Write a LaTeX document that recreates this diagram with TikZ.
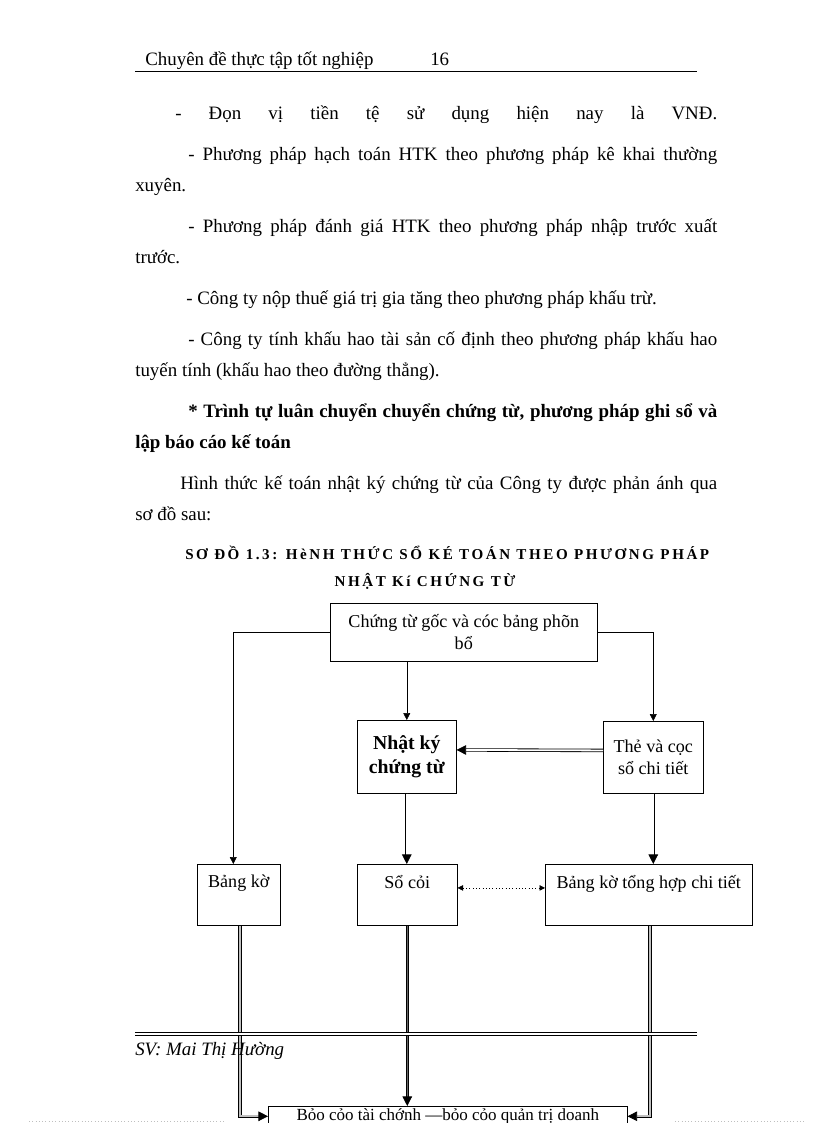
\documentclass[tikz,border=0pt]{standalone}
\usepackage{fontspec}
\setmainfont{Liberation Serif}
\newfontfamily\spaced[LetterSpace=17]{Liberation Serif}
\usetikzlibrary{arrows.meta,positioning,calc}
\newdimen\px
\px=0.7297pt

\begin{document}
\begin{tikzpicture}[x=0.7297pt,y=-0.7297pt,
  txt/.style={anchor=base west,inner sep=0pt,font=\fontsize{13.8}{16}\selectfont},
  bx/.style={draw,anchor=north west,inner sep=2pt,align=center,font=\fontsize{13.2}{16}\selectfont},
  toptext/.style={label={[anchor=north,inner sep=0pt,yshift=-11\px,font=\fontsize{13.2}{15}\selectfont]north:#1}},
  ar/.style={-{Triangle[length=5pt,width=5pt]}},
  dbl/.style={double=gray!50,line width=0.6pt,double distance=1.3pt,-{Triangle[length=7pt,width=7pt]}}]
\useasboundingbox (0,0) rectangle (816,1123);
\node[txt] (hd) at (145,65) {Chuyên đề thực tập tốt nghiệp};
\node[txt] (pg) at (430,65) {16};
\draw (135,71) -- (697,71);
\node[txt] (l1) at (175,119) {\makebox[542\px][s]{- Đọn vị tiền tệ sử dụng hiện nay là VNĐ.}};
\node[txt] (l2) at (188,160) {\makebox[529\px][s]{- Phương pháp hạch toán HTK theo phương pháp kê khai thường}};
\node[txt] (l3) at (135,191) {xuyên.};
\node[txt] (l4) at (188,232) {\makebox[529\px][s]{- Phương pháp đánh giá HTK theo phương pháp nhập trước xuất}};
\node[txt] (l5) at (135,263) {trước.};
\node[txt] (l6) at (186,304) {- Công ty nộp thuế giá trị gia tăng theo phương pháp khấu trừ.};
\node[txt] (l7) at (188,345) {\makebox[529\px][s]{- Công ty tính khấu hao tài sản cố định theo phương pháp khấu hao}};
\node[txt] (l8) at (135,376) {tuyến tính (khấu hao theo đường thẳng).};
\node[txt,font=\fontsize{13.8}{16}\selectfont\bfseries] (l9) at (188,417) {\makebox[529\px][s]{* Trình tự luân chuyển chuyển chứng từ, phương pháp ghi sổ và}};
\node[txt,font=\fontsize{13.8}{16}\selectfont\bfseries] (l10) at (135,448) {lập báo cáo kế toán};
\node[txt] (l11) at (180,489) {\makebox[537\px][s]{Hình thức kế toán nhật ký chứng từ của Công ty được phản ánh qua}};
\node[txt] (l12) at (135,520) {sơ đồ sau:};
\node[txt,font=\fontsize{11}{13}\spaced\bfseries] (t1) at (185,559) {SƠ ĐỒ 1.3: HèNH THỨC SỔ KÉ TOÁN THEO PHƯƠNG PHÁP};
\node[anchor=base,inner sep=0pt,font=\fontsize{11}{13}\spaced\bfseries] (t2) at (425,586) {NHẬT Kí CHỨNG TỪ};

\node[bx,minimum width=267\px,minimum height=58\px] (ct) at (330,603) {Chứng từ gốc và cóc bảng phõn\\bổ};
\node[bx,minimum width=99\px,minimum height=73\px,font=\fontsize{14.4}{18}\selectfont\bfseries] (nk) at (357,720) {Nhật ký\\chứng từ};
\node[bx,minimum width=100\px,minimum height=72\px] (tc) at (603,721) {Thẻ và cọc\\sổ chi tiết};
\node[bx,minimum width=83\px,minimum height=61\px,toptext={Bảng kờ}] (bk) at (197,864) {};
\node[bx,minimum width=100\px,minimum height=61\px,toptext={Sổ cỏi}] (sc) at (357,864) {};
\node[bx,minimum width=207\px,minimum height=61\px,toptext={Bảng kờ tổng hợp chi tiết}] (bt) at (545,864) {};
\node[bx,minimum width=359\px,minimum height=20\px,inner sep=0.5pt,font=\fontsize{12.4}{14}\selectfont] (bc) at (268,1106) {Bỏo cỏo tài chớnh —bỏo cỏo quản trị doanh};

\draw[ar] (ct.west) -| ([xshift=-4pt]bk.north);
\draw[ar] (ct.east) -| (tc.north);
\draw[ar] (ct.south -| nk.north) -- (nk.north);
\draw[dbl,double=white] ([yshift=5pt]tc.west) -- ([yshift=5pt]nk.east);
\draw[dbl,double=white] (nk.south) -- (nk.south |- sc.north);
\draw[dbl,double=white] (tc.south) -- (tc.south |- bt.north);
\draw[dotted,{Triangle[length=4pt,width=4pt]}-{Triangle[length=4pt,width=4pt]}] ([yshift=5pt]sc.east) -- ([yshift=5pt]bt.west);
\draw[dbl,double=gray!80!black,double distance=1pt] (sc.south) -- (sc.south |- bc.north);
\foreach \a/\b in {bk/west,bt/east} \draw[dbl] ([xshift=1pt]\a.south) |- (bc.\b);

\draw[double,double distance=1.5pt] (135,1034) -- (697,1034);
\node[txt,font=\fontsize{13.8}{16}\selectfont\itshape] (sv) at (135,1055) {SV: Mai Thị Hường};
\draw[gray!50,dotted] (29,1121) -- (225,1121) (675,1121) -- (806,1121);
\end{tikzpicture}
\end{document}
